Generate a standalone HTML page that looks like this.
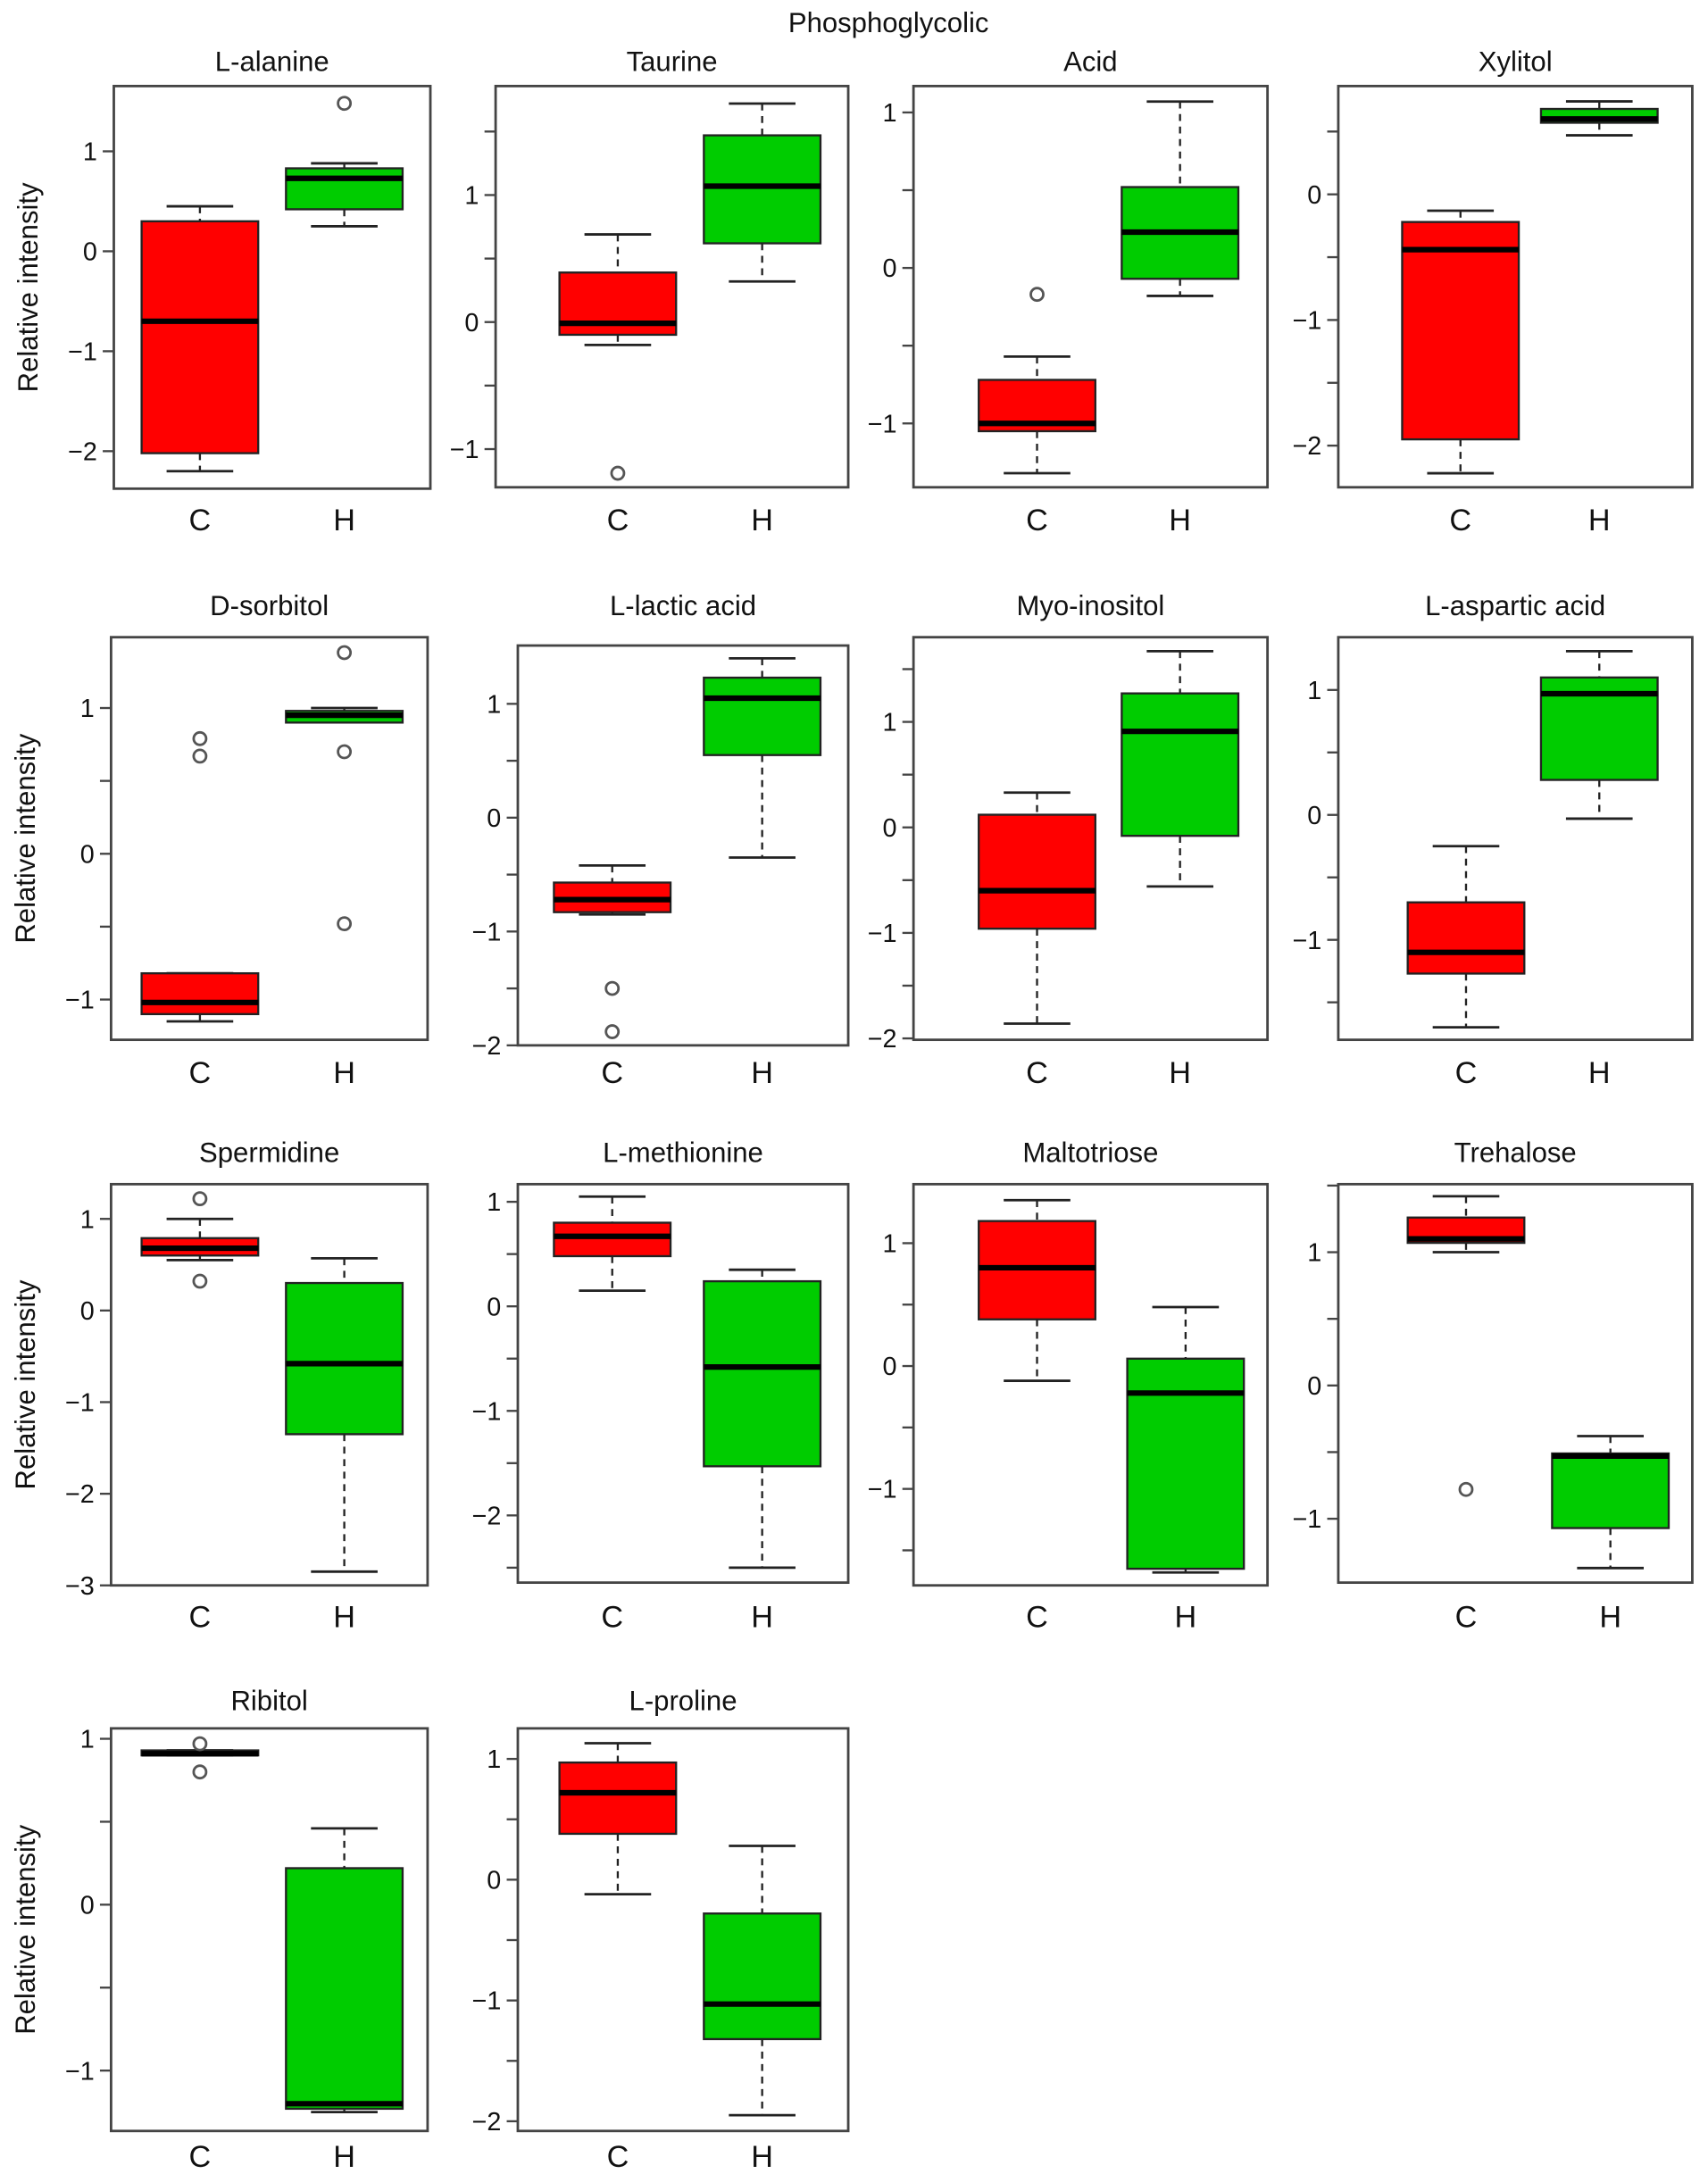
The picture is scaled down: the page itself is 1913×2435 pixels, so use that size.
<!DOCTYPE html>
<html><head><meta charset="utf-8"><style>
html,body{margin:0;padding:0;background:#fff}
svg{display:block}
text{font-family:"Liberation Sans",sans-serif;fill:#111}
</style></head><body>
<svg id="chart" width="1913" height="2435" viewBox="0 0 1230.3 1566" preserveAspectRatio="none" xmlns="http://www.w3.org/2000/svg">
<text x="640" y="23" font-size="20" text-anchor="middle">Phosphoglycolic</text>
</svg>
<script>
const names=["L-alanine","Taurine","Acid","Xylitol","D-sorbitol","L-lactic acid","Myo-inositol","L-aspartic acid","Spermidine","L-methionine","Maltotriose","Trehalose","Ribitol","L-proline"];
const groups=["C","H"];
// [lo,q1,med,q3,hi]
const cStats=[[-2.2,-2.02,-0.7,0.3,0.45],[-0.18,-0.1,-0.01,0.39,0.69],[-1.32,-1.05,-1.0,-0.72,-0.57],[-2.22,-1.95,-0.44,-0.22,-0.13],[-1.15,-1.1,-1.02,-0.82,-0.82],[-0.85,-0.83,-0.72,-0.57,-0.42],[-1.86,-0.96,-0.6,0.12,0.33],[-1.7,-1.27,-1.1,-0.7,-0.25],[0.55,0.6,0.68,0.79,1.0],[0.15,0.48,0.67,0.8,1.05],[-0.12,0.38,0.8,1.18,1.35],[1.0,1.07,1.1,1.26,1.42],[0.9,0.9,0.91,0.93,0.93],[-0.12,0.38,0.72,0.97,1.13]];
const hStats=[[0.25,0.42,0.73,0.83,0.88],[0.32,0.62,1.07,1.47,1.72],[-0.18,-0.07,0.23,0.52,1.07],[0.47,0.57,0.6,0.68,0.74],[0.97,0.9,0.95,0.98,1.0],[-0.35,0.55,1.05,1.23,1.4],[-0.56,-0.08,0.91,1.27,1.67],[-0.03,0.28,0.97,1.1,1.31],[-2.85,-1.35,-0.58,0.3,0.57],[-2.5,-1.53,-0.58,0.24,0.35],[-1.68,-1.65,-0.22,0.06,0.48],[-1.37,-1.07,-0.53,-0.51,-0.38],[-1.25,-1.23,-1.2,0.22,0.46],[-1.95,-1.32,-1.03,-0.28,0.28]];
const cOut=[[],[-1.19],[-0.17],[],[0.79,0.67],[-1.5,-1.88],[],[],[1.22,0.32],[],[],[-0.78],[0.97,0.8],[]];
const hOut=[[1.48],[],[],[],[1.38,0.7,-0.48],[],[],[],[],[],[],[],[],[]];
const ticks=[[1,0,-1,-2],[1.5,1,0.5,0,-0.5,-1],[1,0.5,0,-0.5,-1],[0.5,0,-0.5,-1,-1.5,-2],[1,0.5,0,-0.5,-1],[1,0.5,0,-0.5,-1,-1.5,-2],[1.5,1,0.5,0,-0.5,-1,-1.5,-2],[1,0.5,0,-0.5,-1,-1.5],[1,0,-1,-2,-3],[1,0.5,0,-0.5,-1,-1.5,-2,-2.5],[1,0.5,0,-0.5,-1,-1.5],[1.5,1,0.5,0,-0.5,-1],[1,0.5,0,-0.5,-1],[1,0.5,0,-0.5,-1,-1.5,-2]];
// layout: frame left,right,top,bottom, pixel of 0, pixels per unit, C center, H center
const layout=[[82,310,62,352,181,72,144,248],[357,611,62,351,232,91.5,445,549],[658,913,62,351,193,112,747,850],[964,1219,62,351,140,90.5,1052,1152],
[80,308,459,749,615,105,144,248],[373,611,465,753,589,82,441,549],[658,913,459,749,596,76,747,850],[964,1219,459,749,587,90,1056,1152],
[80,308,853,1142,944,66,144,248],[373,611,853,1140,941,75.3,441,549],[658,913,853,1142,984,88.5,747,854],[964,1219,853,1140,998,96,1056,1160],
[80,308,1245,1535,1372,119.5,144,248],[373,611,1245,1535,1354,87,445,549]];
const rowTitleY=[51,443,837,1232];
const rowXLabY=[382,780,1172,1561];
const NS="http://www.w3.org/2000/svg";
const svg=document.getElementById('chart');
function mk(tag,attrs,parent){const e=document.createElementNS(NS,tag);for(const k in attrs)e.setAttribute(k,attrs[k]);(parent||svg).appendChild(e);return e;}
function drawBox(g,cx,st,yf,fill,outs,grp){
  const hw=42,cw=24;
  const b=mk('g',{},g);
  
  
  mk('line',{x1:cx,x2:cx,y1:yf(st[4]),y2:yf(st[3]),stroke:'#222','stroke-width':1.5,'stroke-dasharray':'5,4'},b);
  mk('line',{x1:cx,x2:cx,y1:yf(st[1]),y2:yf(st[0]),stroke:'#222','stroke-width':1.5,'stroke-dasharray':'5,4'},b);
  mk('line',{x1:cx-cw,x2:cx+cw,y1:yf(st[4]),y2:yf(st[4]),stroke:'#222','stroke-width':1.8},b);
  mk('line',{x1:cx-cw,x2:cx+cw,y1:yf(st[0]),y2:yf(st[0]),stroke:'#222','stroke-width':1.8},b);
  const top=Math.min(yf(st[3]),yf(st[1])),h=Math.max(Math.abs(yf(st[1])-yf(st[3])),1);
  mk('rect',{x:cx-hw,y:top,width:2*hw,height:h,fill:fill,stroke:'#222','stroke-width':1.5},b);
  mk('line',{x1:cx-hw,x2:cx+hw,y1:yf(st[2]),y2:yf(st[2]),stroke:'#000','stroke-width':4},b);
  outs.forEach(v=>{
    const o=mk('circle',{cx:cx,cy:yf(v),r:4.5,fill:'none',stroke:'#555','stroke-width':1.8},b);
    
    
  });
}
names.forEach((nm,i)=>{
  const [l,r,t,bt,y0,ppu,cc,hc]=layout[i];
  const row=Math.floor(i/4);
  const yf=v=>y0-v*ppu;
  const g=mk('g',{});
  
  
  const tt=mk('text',{x:(l+r)/2,y:rowTitleY[row],'font-size':20,'text-anchor':'middle'},g);
  tt.textContent=nm;
  
  
  drawBox(g,cc,cStats[i],yf,'#ff0000',cOut[i],'c');
  drawBox(g,hc,hStats[i],yf,'#00cc00',hOut[i],'h');
  const fr=mk('rect',{x:l,y:t,width:r-l,height:bt-t,fill:'none',stroke:'#444','stroke-width':1.8},g);
  
  
  ticks[i].forEach(v=>{
    const y=yf(v);
    mk('line',{x1:l-8,x2:l,y1:y,y2:y,stroke:'#444','stroke-width':1.5},g);
    if(Number.isInteger(v)){
      const tl=mk('text',{x:l-12,y:y+6.5,'font-size':18.5,'text-anchor':'end'},g);
      tl.textContent=v<0?'\u2212'+Math.abs(v):String(v);
      
      
    }
  });
  [cc,hc].forEach((x,k)=>{
    const xl=mk('text',{x:x,y:rowXLabY[row],'font-size':22,'text-anchor':'middle'},g);
    xl.textContent=groups[k];
    
    
  });
  if(i%4===0){
    const cy=(t+bt)/2;
    const yl=mk('text',{x:0,y:0,'font-size':20,'text-anchor':'middle',transform:`translate(${l-55},${cy}) rotate(-90)`},g);
    yl.textContent='Relative intensity';
    
    
  }
});
</script>
</body></html>
